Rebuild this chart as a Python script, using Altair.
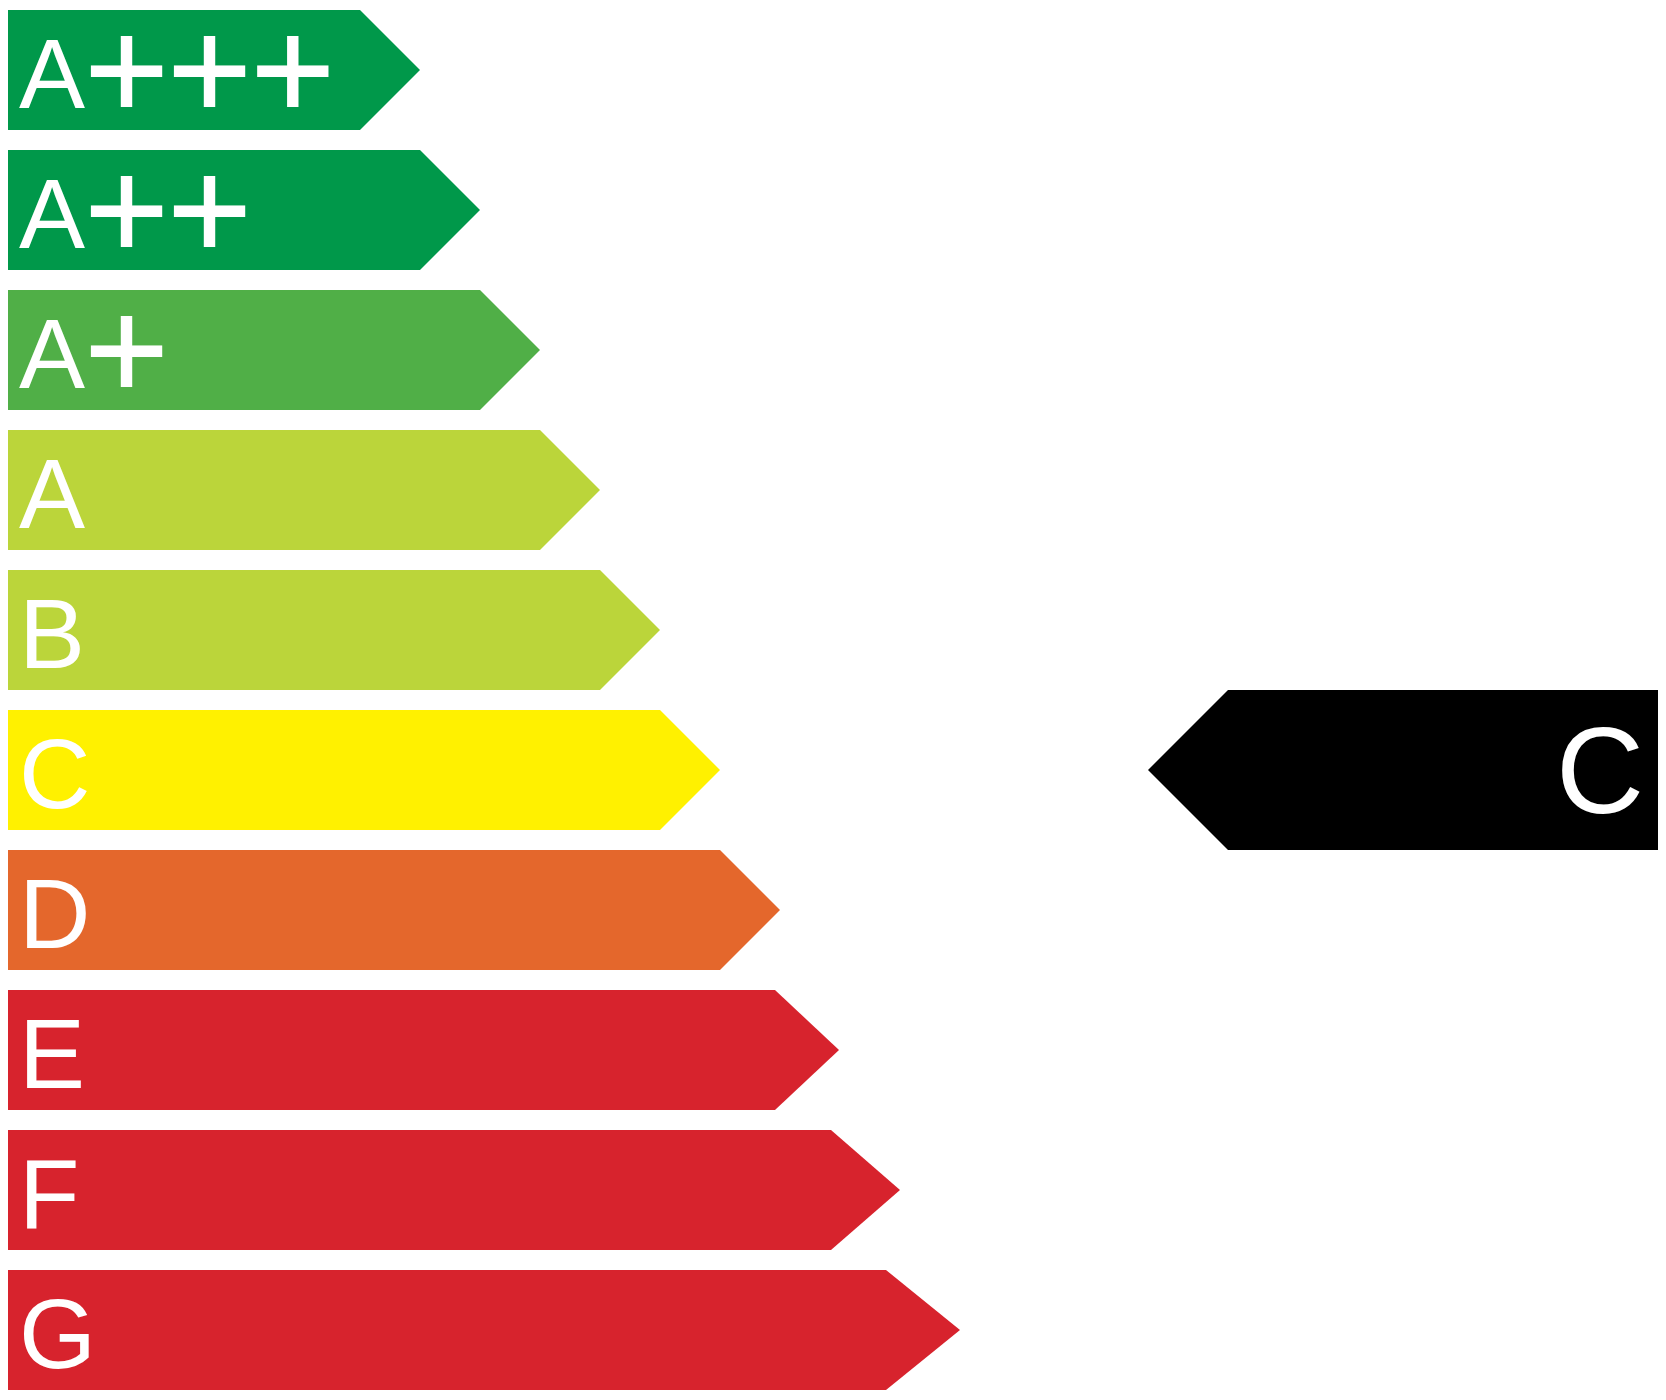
import altair as alt
import pandas as pd

# Energy classes, top to bottom
classes = ["A+++", "A++", "A+", "A", "B", "C", "D", "E", "F", "G"]
class_colors = ["#00984A", "#00984A", "#50AF47", "#BBD53A", "#BBD53A",
                "#FFF100", "#E4672C", "#D7232D", "#D7232D", "#D7232D"]
# Length of the flat part of each arrow and of its tip (chart units)
body_length = [360, 420, 480, 540, 600, 660, 720, 775, 831, 886]
tip_length = [420, 480, 540, 600, 660, 720, 780, 839, 900, 960]

# The rated class shown by the black marker
rating = "C"
marker_tip = 1148
marker_body = 1228
marker_end = 1666

BAR_HALF = 60 / 140
MARK_HALF = 80 / 140

xs = alt.Scale(domain=[8, 1658], nice=False, zero=False)
ys = alt.Scale(domain=[1322 / 140, -62 / 140], nice=False, zero=False)


def X(f):
    return alt.X(f, type="quantitative", scale=xs, axis=None)


def Y(f):
    return alt.Y(f, type="quantitative", scale=ys, axis=None, stack=None)


layers = []
for i, (c, col, b, t) in enumerate(zip(classes, class_colors, body_length, tip_length)):
    df = pd.DataFrame({
        "cls": [c, c, c],
        "x": [0, b, t],
        "y": [i - BAR_HALF, i - BAR_HALF, i],
        "y2": [i + BAR_HALF, i + BAR_HALF, i],
    })
    layers.append(
        alt.Chart(df).mark_area(interpolate="linear", color=col).encode(
            x=X("x"), y=Y("y"), y2=alt.Y2("y2")
        )
    )

ri = classes.index(rating)
marker = pd.DataFrame({
    "cls": [rating] * 3,
    "x": [marker_tip, marker_body, marker_end],
    "y": [ri, ri - MARK_HALF, ri - MARK_HALF],
    "y2": [ri, ri + MARK_HALF, ri + MARK_HALF],
})
layers.append(
    alt.Chart(marker).mark_area(interpolate="linear", color="#000000").encode(
        x=X("x"), y=Y("y"), y2=alt.Y2("y2")
    )
)

labels = pd.DataFrame({
    "cls": classes,
    "letter": [c[0] for c in classes],
    "plus": [c[1:] for c in classes],
    "idx": list(range(len(classes))),
    "x": [19] * len(classes),
    "xp": [85] * len(classes),
})
marker_label = pd.DataFrame({"cls": [rating], "idx": [ri], "x": [1644]})

layers.append(
    alt.Chart(labels).mark_text(
        font="Liberation Sans", fontSize=99, color="white", align="left",
        baseline="alphabetic", dy=38,
    ).encode(x=X("x"), y=Y("idx"), text="letter:N")
)
layers.append(
    alt.Chart(labels).transform_filter("datum.plus != ''").mark_text(
        font="DejaVu Sans Mono", fontSize=138, color="white", align="left",
        baseline="alphabetic", dy=45,
    ).encode(x=X("xp"), y=Y("idx"), text="plus:N")
)
layers.append(
    alt.Chart(marker_label).mark_text(
        font="Liberation Sans", fontSize=122, color="white", align="right",
        baseline="alphabetic", dy=43,
    ).encode(x=X("x"), y=Y("idx"), text="cls:N")
)

chart = alt.layer(*layers).properties(
    width=1650, height=1384,
    autosize=alt.AutoSizeParams(type="none"),
    padding=0,
).configure_view(stroke=None)

chart.save("out.html", embed_options={"renderer": "svg", "actions": False})
